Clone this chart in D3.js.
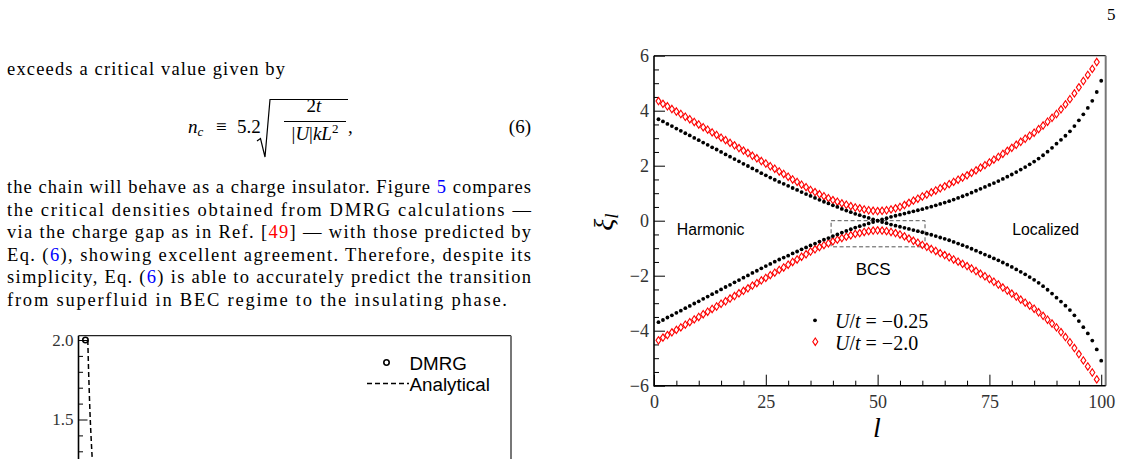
<!DOCTYPE html>
<html>
<head>
<meta charset="utf-8">
<script src="https://cdn.jsdelivr.net/npm/d3@7"></script>
<style>
body { margin: 0; background: #fff; }
svg { display: block; }
</style>
</head>
<body>
<script>
/* PAGINA 5: texto + figura xi_l */

// ---- texto de la columna izquierda ----
var pageNumber = "5";
var introLine = "exceeds a critical value given by";
// cada trozo: [texto, color]  0 negro, 1 enlace azul, 2 cita roja
var paraLines = [
    [["the chain will behave as a charge insulator. Figure ", 0], ["5", 1], [" compares", 0]],
    [["the critical densities obtained from DMRG calculations \u2014", 0]],
    [["via the charge gap as in Ref. [", 0], ["49", 2], ["] \u2014 with those predicted by", 0]],
    [["Eq. (", 0], ["6", 1], ["), showing excellent agreement. Therefore, despite its", 0]],
    [["simplicity, Eq. (", 0], ["6", 1], [") is able to accurately predict the transition", 0]],
    [["from superfluid in BEC regime to the insulating phase.", 0]]
];
var linkColors = ["#000", "#0000ff", "#ff0000"];

// ---- figura derecha: xi_l frente a l ----
var lBlack = d3.range(1, 101);
var lRed = d3.range(1, 100);

var xiBlackA = [3.69,3.61,3.52,3.44,3.35,3.27,3.18,3.10,3.01,2.93,
    2.84,2.76,2.67,2.59,2.50,2.41,2.33,2.24,2.16,2.07,
    1.99,1.90,1.82,1.73,1.65,1.57,1.49,1.41,1.34,1.27,
    1.19,1.12,1.04,0.97,0.90,0.83,0.76,0.69,0.63,0.56,
    0.50,0.43,0.37,0.31,0.25,0.20,0.15,0.10,0.05,0.00,
    -0.05,-0.09,-0.14,-0.18,-0.22,-0.26,-0.30,-0.34,-0.38,-0.42,
    -0.47,-0.51,-0.56,-0.61,-0.66,-0.71,-0.77,-0.83,-0.89,-0.95,
    -1.02,-1.09,-1.16,-1.23,-1.30,-1.37,-1.44,-1.52,-1.60,-1.68,
    -1.77,-1.86,-1.95,-2.05,-2.15,-2.26,-2.38,-2.51,-2.65,-2.80,
    -2.94,-3.09,-3.25,-3.44,-3.65,-3.87,-4.10,-4.36,-4.68,-5.09];
var xiBlackB = [-3.69,-3.61,-3.52,-3.44,-3.35,-3.27,-3.18,-3.10,-3.01,-2.93,
    -2.84,-2.76,-2.67,-2.59,-2.50,-2.41,-2.33,-2.24,-2.16,-2.07,
    -1.99,-1.90,-1.82,-1.73,-1.65,-1.57,-1.49,-1.41,-1.34,-1.27,
    -1.19,-1.12,-1.04,-0.97,-0.90,-0.83,-0.76,-0.69,-0.63,-0.56,
    -0.50,-0.43,-0.37,-0.31,-0.25,-0.20,-0.15,-0.10,-0.05,0.00,
    0.05,0.09,0.14,0.18,0.22,0.26,0.30,0.34,0.38,0.42,
    0.47,0.51,0.56,0.61,0.66,0.71,0.77,0.83,0.89,0.95,
    1.02,1.09,1.16,1.23,1.30,1.37,1.44,1.52,1.60,1.68,
    1.77,1.86,1.95,2.05,2.15,2.26,2.38,2.51,2.65,2.80,
    2.94,3.09,3.25,3.44,3.65,3.87,4.10,4.36,4.68,5.09];

var xiRedA = [4.35,4.25,4.16,4.06,3.97,3.88,3.78,3.69,3.59,3.50,
    3.40,3.31,3.21,3.12,3.02,2.93,2.83,2.74,2.64,2.55,
    2.46,2.36,2.27,2.17,2.08,1.98,1.89,1.79,1.70,1.60,
    1.50,1.41,1.31,1.22,1.12,1.04,0.96,0.89,0.82,0.75,
    0.69,0.63,0.58,0.53,0.48,0.45,0.41,0.38,0.36,0.35,
    0.36,0.38,0.41,0.45,0.50,0.57,0.65,0.73,0.80,0.88,
    0.95,1.03,1.10,1.18,1.25,1.33,1.41,1.49,1.57,1.65,
    1.74,1.83,1.93,2.02,2.12,2.22,2.32,2.43,2.54,2.65,
    2.76,2.87,2.98,3.09,3.20,3.33,3.46,3.60,3.74,3.88,
    4.05,4.23,4.42,4.63,4.85,5.08,5.30,5.52,5.77];
var xiRedB = [-4.35,-4.25,-4.16,-4.06,-3.97,-3.88,-3.78,-3.69,-3.59,-3.50,
    -3.40,-3.31,-3.21,-3.12,-3.02,-2.93,-2.83,-2.74,-2.64,-2.55,
    -2.46,-2.36,-2.27,-2.17,-2.08,-1.98,-1.89,-1.79,-1.70,-1.60,
    -1.50,-1.41,-1.31,-1.22,-1.12,-1.04,-0.96,-0.89,-0.82,-0.75,
    -0.69,-0.63,-0.58,-0.53,-0.48,-0.45,-0.41,-0.38,-0.36,-0.35,
    -0.36,-0.38,-0.41,-0.45,-0.50,-0.57,-0.65,-0.73,-0.80,-0.88,
    -0.95,-1.03,-1.10,-1.18,-1.25,-1.33,-1.41,-1.49,-1.57,-1.65,
    -1.74,-1.83,-1.93,-2.02,-2.12,-2.22,-2.32,-2.43,-2.54,-2.65,
    -2.76,-2.87,-2.98,-3.09,-3.20,-3.33,-3.46,-3.60,-3.74,-3.88,
    -4.05,-4.23,-4.42,-4.63,-4.85,-5.08,-5.30,-5.52,-5.77];

var xTicks = [0, 25, 50, 75, 100];
var yTicks = [-6, -4, -2, 0, 2, 4, 6];
var bcsBoxL = [39.6, 60.6];
var bcsBoxXi = [-0.95, 0];
var regionNames = ["Harmonic", "BCS", "Localized"];
var regionL = [5.1, 49.0, 80.1];
var regionXi = [-0.52, -1.97, -0.52];
var legendValues = ["\u22120.25", "\u22122.0"];

// ---- figura inferior izquierda (cortada) ----
var dmrgX = [1.6];
var dmrgN = [2.0];
var anaX = [2.15, 2.24, 2.34, 2.46, 2.58, 2.72, 2.89, 3.08, 3.29];
var anaN = [2.0, 1.9, 1.8, 1.7, 1.6, 1.5, 1.4, 1.3, 1.2];
var nTicks = [1.5, 2.0];
var legend2 = ["DMRG", "Analytical"];

var SERIF = "'Liberation Serif', 'DejaVu Serif', serif";
var SANS = "'Liberation Sans', Arial, sans-serif";

var svg = d3.select("body").append("svg")
    .attr("width", 1123).attr("height", 459);
svg.append("rect").attr("width", 1123).attr("height", 459).attr("fill", "#fff");

// numero de pagina
svg.append("text").attr("x", 1107).attr("y", 20)
    .style("font-family", SERIF).style("font-size", "17px")
    .text(pageNumber);

// ---------- texto ----------
svg.append("text").attr("x", 7).attr("y", 75)
    .attr("textLength", 278).attr("lengthAdjust", "spacing")
    .style("font-family", SERIF).style("font-size", "18.5px")
    .text(introLine);

var baselines = [193, 215.5, 238, 260.5, 283, 305.5];
paraLines.forEach(function(line, i) {
    var t = svg.append("text")
        .attr("x", 7).attr("y", baselines[i])
        .attr("textLength", i < 5 ? 524 : 500)
        .attr("lengthAdjust", "spacing")
        .style("font-family", SERIF).style("font-size", "18.5px");
    line.forEach(function(p) {
        t.append("tspan").attr("fill", linkColors[p[1]]).text(p[0]);
    });
});

// ecuacion (6)
var eq = svg.append("g").style("font-family", SERIF).style("font-size", "19px");
var nc = eq.append("text").attr("x", 188).attr("y", 133);
nc.append("tspan").style("font-style", "italic").text("n");
nc.append("tspan").style("font-style", "italic").style("font-size", "13px").attr("dy", 3).text("c");
eq.append("text").attr("x", 216).attr("y", 133).text("\u2261");
eq.append("text").attr("x", 237).attr("y", 133).text("5.2");
eq.append("path")
    .attr("d", "M257,141 L260.5,138.5 L265,157 L270,99.5 H348")
    .attr("fill", "none").attr("stroke", "#000").attr("stroke-width", 1.2);
var num = eq.append("text").attr("x", 314).attr("y", 112).attr("text-anchor", "middle");
num.append("tspan").text("2");
num.append("tspan").style("font-style", "italic").text("t");
eq.append("line").attr("x1", 284).attr("x2", 346).attr("y1", 121.5).attr("y2", 121.5)
    .attr("stroke", "#000").attr("stroke-width", 1.1);
var den = eq.append("text").attr("x", 315).attr("y", 140).attr("text-anchor", "middle");
den.append("tspan").text("|");
den.append("tspan").style("font-style", "italic").text("U");
den.append("tspan").text("|");
den.append("tspan").style("font-style", "italic").text("kL");
den.append("tspan").style("font-size", "13px").attr("dy", -7).text("2");
eq.append("text").attr("x", 348).attr("y", 133).text(",");
eq.append("text").attr("x", 531).attr("y", 133).attr("text-anchor", "end").text("(6)");

// ---------- figura derecha ----------
var x = d3.scaleLinear().domain([0, 101]).range([654, 1105.7]);
var y = d3.scaleLinear().domain([-6, 6]).range([385.7, 55.7]);

function styleAxis(g) {
    g.select(".domain").remove();
    g.selectAll(".tick line").attr("stroke", "#000").attr("stroke-width", 1);
    g.selectAll(".tick text").attr("fill", "#333")
        .style("font-family", SERIF).style("font-size", "18px");
}

svg.append("g").attr("transform", "translate(0," + y(-6) + ")")
    .call(d3.axisBottom(x).tickValues(d3.range(0, 101, 5).filter(function(d) { return d % 25; }))
        .tickSize(-5).tickFormat(""))
    .call(styleAxis);
svg.append("g").attr("transform", "translate(0," + y(-6) + ")")
    .call(d3.axisBottom(x).tickValues(xTicks).tickSize(-11).tickPadding(9.5))
    .call(styleAxis);
svg.append("g").attr("transform", "translate(" + x(0) + ",0)")
    .call(d3.axisLeft(y).tickValues(d3.range(-6, 6.01, 0.5).filter(function(d) { return d % 2; }))
        .tickSize(-5).tickFormat(""))
    .call(styleAxis);
svg.append("g").attr("transform", "translate(" + x(0) + ",0)")
    .call(d3.axisLeft(y).tickValues(yTicks).tickSize(-11).tickPadding(5))
    .call(styleAxis);

// marco
svg.append("line").attr("x1", x(0)).attr("x2", x(101)).attr("y1", y(6)).attr("y2", y(6))
    .attr("stroke", "#222").attr("stroke-width", 1.3);
svg.append("line").attr("x1", x(101)).attr("x2", x(101)).attr("y1", y(6)).attr("y2", y(-6))
    .attr("stroke", "#777").attr("stroke-width", 2);
svg.append("line").attr("x1", x(0)).attr("x2", x(0)).attr("y1", y(6)).attr("y2", y(-6) + 0.8)
    .attr("stroke", "#000").attr("stroke-width", 1.6);
svg.append("line").attr("x1", x(0)).attr("x2", x(101)).attr("y1", y(-6)).attr("y2", y(-6))
    .attr("stroke", "#000").attr("stroke-width", 1.6);

// caja BCS
svg.append("rect")
    .attr("x", x(bcsBoxL[0])).attr("y", y(bcsBoxXi[1]))
    .attr("width", x(bcsBoxL[1]) - x(bcsBoxL[0]))
    .attr("height", y(bcsBoxXi[0]) - y(bcsBoxXi[1]))
    .attr("fill", "none").attr("stroke", "#555").attr("stroke-width", 1)
    .attr("stroke-dasharray", "4,2.5");

var diamond = "M0,-3.7L2.5,0L0,3.7L-2.5,0Z";

[xiRedA, xiRedB].forEach(function(serie) {
    svg.append("g").selectAll("path")
        .data(lRed)
        .enter().append("path")
        .attr("d", diamond)
        .attr("transform", function(d, i) { return "translate(" + x(d) + "," + y(serie[i]) + ")"; })
        .attr("fill", "none").attr("stroke", "#ff0000").attr("stroke-width", 1.1);
});
[xiBlackA, xiBlackB].forEach(function(serie) {
    svg.append("g").selectAll("circle")
        .data(lBlack)
        .enter().append("circle")
        .attr("cx", function(d) { return x(d); })
        .attr("cy", function(d, i) { return y(serie[i]); })
        .attr("r", 1.9).attr("fill", "#000");
});

// rotulos de regiones
regionNames.forEach(function(name, i) {
    svg.append("text")
        .attr("x", x(regionL[i])).attr("y", y(regionXi[i]))
        .attr("text-anchor", i == 1 ? "middle" : "start")
        .style("font-family", SANS).style("font-size", i == 1 ? "17px" : "15.8px")
        .text(name);
});

// leyenda
svg.append("circle").attr("cx", 815).attr("cy", 320.3).attr("r", 1.9).attr("fill", "#000");
svg.append("path").attr("d", diamond).attr("transform", "translate(815.3,341.7)")
    .attr("fill", "none").attr("stroke", "#ff0000").attr("stroke-width", 1.1);
legendValues.forEach(function(v, i) {
    var t = svg.append("text").attr("x", 835).attr("y", 327.5 + i * 22)
        .style("font-family", SERIF).style("font-size", "20px");
    t.append("tspan").style("font-style", "italic").text("U");
    t.append("tspan").text("/");
    t.append("tspan").style("font-style", "italic").text("t");
    t.append("tspan").text(" = " + v);
});

// titulos de ejes
var yl = svg.append("text").attr("transform", "translate(613,222) rotate(-90)")
    .attr("text-anchor", "middle")
    .style("font-family", SERIF).style("font-style", "italic").style("font-size", "28px");
yl.append("tspan").text("\u03be");
yl.append("tspan").style("font-size", "19px").attr("dy", 5).text("l");
svg.append("text").attr("x", 877).attr("y", 437).attr("text-anchor", "middle")
    .style("font-family", SERIF).style("font-style", "italic").style("font-size", "28px")
    .text("l");

// ---------- figura inferior izquierda ----------
var x2 = d3.scaleLinear().domain([0, 100]).range([78.5, 511]);
var y2 = d3.scaleLinear().domain([0, 2]).range([658, 340]);
var top2 = y2(2.027);

svg.append("g").attr("transform", "translate(" + x2(0) + ",0)")
    .call(d3.axisLeft(y2).tickValues(d3.range(1.1, 2.0, 0.1).filter(function(d) { return Math.abs(d - 1.5) > 0.01; }))
        .tickSize(-4.5).tickFormat(""))
    .call(styleAxis);
svg.append("g").attr("transform", "translate(" + x2(0) + ",0)")
    .call(d3.axisLeft(y2).tickValues(nTicks).tickSize(-9).tickPadding(5).tickFormat(d3.format(".1f")))
    .call(styleAxis)
    .selectAll(".tick text").style("font-size", "17px");

svg.append("line").attr("x1", x2(0)).attr("x2", x2(100)).attr("y1", top2).attr("y2", top2)
    .attr("stroke", "#222").attr("stroke-width", 1.3);
svg.append("line").attr("x1", x2(100)).attr("x2", x2(100)).attr("y1", top2).attr("y2", 459)
    .attr("stroke", "#777").attr("stroke-width", 2);
svg.append("line").attr("x1", x2(0)).attr("x2", x2(0)).attr("y1", top2).attr("y2", 459)
    .attr("stroke", "#000").attr("stroke-width", 1.6);

var anaLine = d3.line()
    .x(function(d, i) { return x2(anaX[i]); })
    .y(function(d) { return y2(d); })
    .curve(d3.curveMonotoneY);
svg.append("path").datum(anaN)
    .attr("d", anaLine)
    .attr("fill", "none").attr("stroke", "#000").attr("stroke-width", 1.5)
    .attr("stroke-dasharray", "5,3");
svg.append("g").selectAll("circle")
    .data(dmrgN).enter().append("circle")
    .attr("cx", function(d, i) { return x2(dmrgX[i]); })
    .attr("cy", function(d) { return y2(d); })
    .attr("r", 2.7).attr("fill", "none").attr("stroke", "#000").attr("stroke-width", 1.6);

svg.append("circle").attr("cx", 386.5).attr("cy", 362.5).attr("r", 2.7)
    .attr("fill", "none").attr("stroke", "#000").attr("stroke-width", 1.6);
svg.append("line").attr("x1", 367).attr("x2", 409).attr("y1", 383.5).attr("y2", 383.5)
    .attr("stroke", "#000").attr("stroke-width", 1.5).attr("stroke-dasharray", "5,3");
legend2.forEach(function(s, i) {
    svg.append("text").attr("x", 409.5).attr("y", 369.5 + i * 21)
        .style("font-family", SANS).style("font-size", "18.8px")
        .text(s);
});
</script>
</body>
</html>
